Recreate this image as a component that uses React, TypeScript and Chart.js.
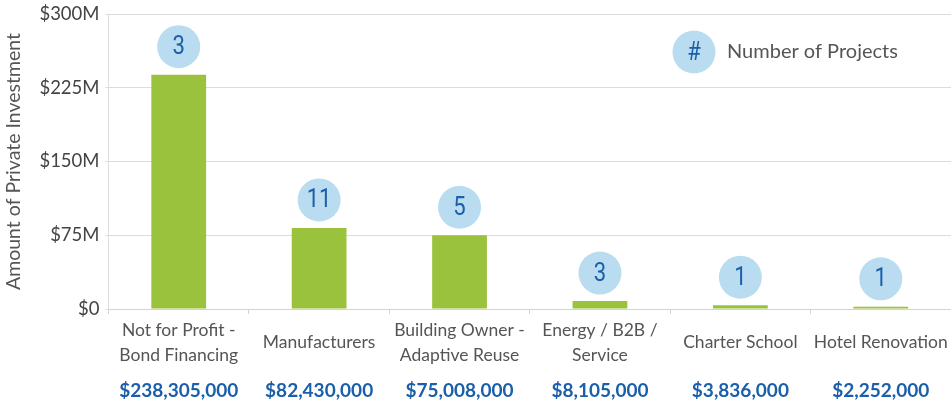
import React, { useEffect, useRef } from "react";
import { Chart, registerables } from "chart.js";

Chart.register(...registerables);

const categories: string[][] = [
  ["Not for Profit -", "Bond Financing"],
  ["Manufacturers"],
  ["Building Owner -", "Adaptive Reuse"],
  ["Energy / B2B /", "Service"],
  ["Charter School"],
  ["Hotel Renovation"],
];
const investment: number[] = [238305000, 82430000, 75008000, 8105000, 3836000, 2252000];
const amountLabels: string[] = ["$238,305,000", "$82,430,000", "$75,008,000", "$8,105,000", "$3,836,000", "$2,252,000"];
const projects: number[] = [3, 11, 5, 3, 1, 1];
const yTicks: number[] = [0, 75000000, 150000000, 225000000, 300000000];
const yTickLabels: string[] = ["$0", "$75M", "$150M", "$225M", "$300M"];

const GREEN = "#9BC23C";
const BUBBLE = "#B9DCF1";
const BLUE = "#1B5FAA";
const GRAY = "#555555";
const FONT = "Lato, 'Open Sans', sans-serif";
const NUM_FONT = "Roboto, 'Liberation Sans', sans-serif";

function drawBubble(ctx: CanvasRenderingContext2D, x: number, y: number, text: string) {
  ctx.save();
  ctx.beginPath();
  ctx.arc(x, y, 21.5, 0, Math.PI * 2);
  ctx.fillStyle = BUBBLE;
  ctx.fill();
  ctx.translate(x, y + 1);
  ctx.scale(0.85, 1);
  ctx.fillStyle = BLUE;
  ctx.font = `26px ${NUM_FONT}`;
  ctx.textAlign = "center";
  ctx.textBaseline = "middle";
  ctx.fillText(text, 0, 0);
  ctx.restore();
}

const bubblePlugin = {
  id: "bubbles",
  afterDatasetsDraw(chart: any) {
    const ctx = chart.ctx as CanvasRenderingContext2D;
    const meta = chart.getDatasetMeta(0);
    meta.data.forEach((bar: any, i: number) => {
      drawBubble(ctx, bar.x, bar.y - 28, String(projects[i]));
    });
    const { right, top } = chart.chartArea;
    const lx = right - 257;
    const ly = top + 38;
    drawBubble(ctx, lx, ly, "#");
    ctx.save();
    ctx.fillStyle = GRAY;
    ctx.font = `20px ${FONT}`;
    ctx.textAlign = "left";
    ctx.textBaseline = "middle";
    ctx.fillText("Number of Projects", lx + 33, ly);
    ctx.restore();
  },
};

export default function App() {
  const ref = useRef<HTMLCanvasElement | null>(null);
  useEffect(() => {
    if (!ref.current) return;
    const chart = new Chart(ref.current, {
      type: "bar",
      data: {
        labels: categories,
        datasets: [
          {
            data: investment,
            backgroundColor: GREEN,
            barPercentage: 0.39,
            categoryPercentage: 1,
          },
        ],
      },
      plugins: [bubblePlugin],
      options: {
        animation: false,
        responsive: false,
        devicePixelRatio: 1,
        layout: { padding: { top: 14, right: 0, left: 2, bottom: 0 } },
        plugins: { legend: { display: false }, tooltip: { enabled: false } },
        scales: {
          x: {
            type: "category",
            position: "bottom",
            grid: { drawOnChartArea: false, drawTicks: true, tickLength: 5, color: "#d4d4d4", offset: true },
            border: { color: "#d4d4d4" },
            ticks: {
              color: GRAY,
              font: { family: FONT, size: 17.5, lineHeight: 1.43 },
              maxRotation: 0,
              autoSkip: false,
              padding: 16,
              crossAlign: "center",
            },
            afterFit: (scale: any) => {
              scale.height = 60;
              scale.paddingLeft = 0;
              scale.paddingRight = 0;
            },
          },
          x2: {
            type: "category",
            position: "bottom",
            labels: amountLabels,
            grid: { display: false, drawTicks: false },
            border: { display: false },
            ticks: {
              color: BLUE,
              font: { family: FONT, size: 19, weight: "bold", lineHeight: 1.2 },
              maxRotation: 0,
              autoSkip: false,
              padding: 10,
            },
            afterFit: (scale: any) => {
              scale.height = 34;
              scale.paddingLeft = 0;
              scale.paddingRight = 0;
            },
          },
          y: {
            min: 0,
            max: 300000000,
            afterBuildTicks: (scale: any) => {
              scale.ticks = yTicks.map((v) => ({ value: v }));
            },
            afterFit: (scale: any) => {
              scale.paddingTop = 0;
              scale.paddingBottom = 0;
            },
            grid: { color: "#dcdcdc", drawTicks: true, tickLength: 3 },
            border: { color: "#dcdcdc" },
            ticks: {
              color: "#444444",
              font: { family: FONT, size: 18.5 },
              padding: 6,
              callback: (v: any) => {
                const i = yTicks.indexOf(Number(v));
                return i >= 0 ? yTickLabels[i] : "";
              },
            },
            title: {
              display: true,
              text: "Amount of Private Investment",
              color: GRAY,
              font: { family: FONT, size: 19.5 },
              padding: { top: 0, bottom: 8 },
            },
          },
        },
      },
    });
    return () => chart.destroy();
  }, []);
  return (
    <div style={{ position: "absolute", left: 0, top: 0, width: 951, height: 403, background: "#fff" }}>
      <canvas ref={ref} width={951} height={403} />
    </div>
  );
}
